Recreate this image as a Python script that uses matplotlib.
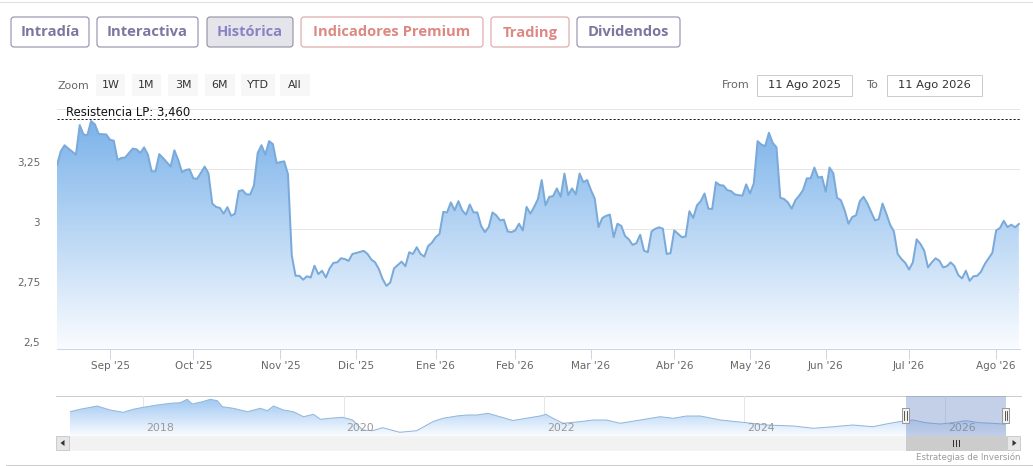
import numpy as np
import pandas as pd
import matplotlib
matplotlib.use('Agg')
import matplotlib.pyplot as plt
from matplotlib.patches import FancyBboxPatch, Rectangle, Polygon
import matplotlib.transforms as mtransforms

# ---------------- data ----------------
start_date = '2025-08-11'
end_date = '2026-08-11'
market_holidays = ['2025-08-15', '2025-12-25', '2025-12-26', '2026-01-01',
                   '2026-04-03', '2026-04-06', '2026-05-01']

# trading session number (since 11 Ago 2025) and closing price
session = [0, 1, 2, 3, 5, 6, 7, 8, 9, 10, 11, 13, 14, 15, 16, 17, 18, 20, 21, 22,
           23, 24, 25, 26, 27, 28, 30, 31, 32, 33, 34, 35, 36, 37, 39, 40, 41, 42, 43, 44,
           45, 46, 47, 48, 49, 50, 51, 52, 53, 54, 55, 56, 57, 58, 59, 60, 61, 62, 63, 64,
           65, 66, 67, 68, 69, 70, 71, 72, 73, 74, 75, 76, 77, 78, 79, 81, 82, 83, 84, 85,
           86, 87, 88, 89, 90, 91, 92, 93, 94, 95, 96, 97, 98, 99, 100, 101, 102, 103, 104, 105,
           106, 107, 108, 109, 110, 111, 112, 113, 114, 115, 116, 117, 118, 119, 120, 121, 122, 123, 124, 125,
           126, 127, 128, 129, 130, 131, 132, 133, 134, 135, 136, 137, 138, 139, 140, 141, 142, 143, 144, 145,
           146, 147, 148, 149, 150, 151, 152, 153, 154, 155, 156, 157, 158, 159, 160, 161, 162, 163, 165, 166,
           167, 168, 169, 170, 171, 172, 173, 174, 175, 176, 177, 178, 179, 180, 181, 182, 183, 184, 185, 186,
           187, 188, 189, 190, 191, 192, 193, 194, 195, 196, 197, 198, 199, 200, 201, 202, 203, 204, 205, 206,
           207, 208, 209, 210, 211, 212, 213, 214, 215, 216, 217, 218, 219, 220, 221, 222, 223, 224, 225, 226,
           227, 228, 229, 230, 231, 232, 233, 234, 235, 236, 237, 238, 239, 240, 241, 242, 243, 244, 245, 247,
           248, 249, 250, 251, 252, 253, 254]
price = [3.267, 3.324, 3.349, 3.335, 3.310, 3.433, 3.394, 3.390, 3.450, 3.436, 3.396, 3.394, 3.372, 3.368, 3.288, 3.296, 3.298, 3.335, 3.332, 3.317,
         3.340, 3.310, 3.240, 3.240, 3.312, 3.296, 3.260, 3.328, 3.288, 3.237, 3.246, 3.249, 3.211, 3.209, 3.260, 3.232, 3.106, 3.092, 3.088, 3.064,
         3.091, 3.055, 3.064, 3.158, 3.162, 3.144, 3.144, 3.181, 3.317, 3.349, 3.310, 3.366, 3.354, 3.275, 3.279, 3.282, 3.228, 2.889, 2.805, 2.805,
         2.789, 2.803, 2.798, 2.847, 2.812, 2.826, 2.798, 2.836, 2.859, 2.861, 2.878, 2.875, 2.867, 2.896, 2.900, 2.909, 2.896, 2.873, 2.861, 2.833,
         2.791, 2.763, 2.777, 2.836, 2.850, 2.864, 2.845, 2.903, 2.896, 2.924, 2.896, 2.885, 2.929, 2.943, 2.966, 2.979, 3.071, 3.069, 3.111, 3.078,
         3.116, 3.078, 3.060, 3.102, 3.069, 3.069, 3.013, 2.987, 3.008, 3.069, 3.057, 3.036, 3.039, 2.990, 2.987, 2.994, 3.022, 2.994, 3.092, 3.064,
         3.092, 3.125, 3.204, 3.099, 3.134, 3.137, 3.169, 3.134, 3.231, 3.141, 3.169, 3.144, 3.231, 3.195, 3.204, 3.162, 3.127, 3.008, 3.046, 3.055,
         3.060, 2.966, 3.022, 3.013, 2.971, 2.957, 2.934, 2.941, 2.976, 2.910, 2.903, 2.990, 3.001, 3.007, 3.001, 2.896, 2.899, 2.994, 2.966, 2.969,
         3.074, 3.046, 3.099, 3.116, 3.148, 3.085, 3.083, 3.195, 3.183, 3.181, 3.162, 3.158, 3.144, 3.141, 3.139, 3.186, 3.148, 3.190, 3.366, 3.352,
         3.345, 3.401, 3.359, 3.340, 3.130, 3.125, 3.111, 3.085, 3.120, 3.139, 3.162, 3.211, 3.211, 3.256, 3.214, 3.218, 3.155, 3.256, 3.232, 3.130,
         3.120, 3.078, 3.022, 3.050, 3.057, 3.116, 3.134, 3.106, 3.071, 3.036, 3.041, 3.106, 3.064, 3.018, 2.990, 2.896, 2.875, 2.859, 2.831, 2.861,
         2.957, 2.938, 2.910, 2.840, 2.861, 2.878, 2.868, 2.840, 2.845, 2.861, 2.845, 2.808, 2.794, 2.826, 2.784, 2.803, 2.805, 2.822, 2.854, 2.901,
         2.994, 3.004, 3.034, 3.008, 3.018, 3.007, 3.021]
assert len(session) == len(price)

resistance_value = 3.460
resistance_label = 'Resistencia LP: 3,460'

y_ticks = [2.5, 2.75, 3.0, 3.25, 3.5]
y_labels = ['2,5', '2,75', '3', '3,25', '']

month_starts = ['2025-09-01', '2025-10-01', '2025-11-01', '2025-12-01', '2026-01-01', '2026-02-01',
                '2026-03-01', '2026-04-01', '2026-05-01', '2026-06-01', '2026-07-01', '2026-08-01']
month_labels = ["Sep '25", "Oct '25", "Nov '25", "Dic '25", "Ene '26", "Feb '26",
                "Mar '26", "Abr '26", "May '26", "Jun '26", "Jul '26", "Ago '26"]

# navigator (full history), decimal year and price
nav_year = [2017.27, 2017.37, 2017.54, 2017.67, 2017.80, 2017.90, 2018.00, 2018.14, 2018.27, 2018.37,
            2018.44, 2018.49, 2018.59, 2018.67, 2018.74, 2018.79, 2018.90, 2019.04, 2019.17, 2019.24,
            2019.30, 2019.40, 2019.50, 2019.60, 2019.70, 2019.77, 2019.86, 2019.99, 2020.09, 2020.19,
            2020.29, 2020.39, 2020.56, 2020.73, 2020.89, 2020.99, 2021.13, 2021.23, 2021.33, 2021.44,
            2021.56, 2021.69, 2021.82, 2021.96, 2022.02, 2022.09, 2022.19, 2022.36, 2022.49, 2022.62,
            2022.76, 2022.96, 2023.16, 2023.29, 2023.42, 2023.56, 2023.76, 2024.02, 2024.22, 2024.49,
            2024.69, 2024.89, 2025.08, 2025.28, 2025.45, 2025.60, 2025.68, 2025.81, 2025.95, 2026.08,
            2026.21, 2026.35, 2026.48, 2026.58, 2026.61]
nav_price = [4.03, 4.27, 4.60, 4.20, 3.97, 4.27, 4.47, 4.70, 4.87, 4.93,
             5.27, 4.80, 5.03, 5.27, 5.13, 4.53, 4.37, 4.03, 4.37, 4.13,
             4.60, 4.20, 4.03, 3.53, 3.77, 3.27, 3.37, 3.47, 3.20, 2.20,
             2.13, 2.43, 1.97, 2.13, 3.03, 3.37, 3.60, 3.70, 3.70, 3.87,
             3.53, 3.15, 3.37, 3.60, 3.77, 3.37, 2.87, 3.03, 3.20, 3.20,
             2.87, 3.20, 3.53, 3.37, 3.60, 3.60, 3.20, 2.93, 2.70, 2.60,
             2.37, 2.53, 2.70, 2.53, 2.87, 3.13, 3.20, 2.93, 2.80, 2.93,
             3.13, 2.93, 2.87, 2.80, 2.82]
nav_label_years = [2018, 2020, 2022, 2024, 2026]

# ---------------- figure ----------------
W, H = 1033, 466
DPI = 100
fig = plt.figure(figsize=(W / DPI, H / DPI), dpi=DPI)
fig.patch.set_facecolor('white')
PT = 72 / DPI  # points per pixel

def rect(l, t, r, b):
    return [l / W, 1 - b / H, (r - l) / W, (b - t) / H]

def px_offset(dx, dy):
    return mtransforms.ScaledTranslation(dx / DPI, dy / DPI, fig.dpi_scale_trans)

ov = fig.add_axes([0, 0, 1, 1], zorder=0)
ov.set_xlim(0, W); ov.set_ylim(H, 0); ov.axis('off')
top = fig.add_axes([0, 0, 1, 1], zorder=5)
top.set_xlim(0, W); top.set_ylim(H, 0); top.axis('off'); top.patch.set_alpha(0)

BTN_FONT = ['Open Sans', 'DejaVu Sans']
UI_FONT = ['DejaVu Sans']

# frame lines
ov.plot([0, W], [1.5, 1.5], color='#dddddd', lw=1 * PT)
ov.plot([6, W], [465, 465], color='#cccccc', lw=1 * PT)

# tab buttons
purple_txt, purple_edge = '#7b77a0', '#908caa'
red_txt, red_edge = '#dd8882', '#dda4a1'
tabs = [('Intradía', 11, 89, purple_txt, purple_edge, 'white'),
        ('Interactiva', 97, 198, purple_txt, purple_edge, 'white'),
        ('Histórica', 207, 293, '#8883c4', '#8f8fa0', '#e4e4ea'),
        ('Indicadores Premium', 301, 483, red_txt, red_edge, 'white'),
        ('Trading', 491, 569, red_txt, red_edge, 'white'),
        ('Dividendos', 577, 680, purple_txt, purple_edge, 'white')]
for label, x0, x1, tc, ec, fc in tabs:
    ov.add_patch(FancyBboxPatch((x0, 17), x1 - x0, 30, boxstyle='round,pad=0,rounding_size=3',
                                fc=fc, ec=ec, lw=1.1 * PT))
    ov.text((x0 + x1) / 2, 32.5, label, ha='center', va='center', color=tc,
            fontsize=14.8 * PT, fontweight='bold', family=BTN_FONT)

# range selector
ov.text(57, 86, 'Zoom', ha='left', va='center', color='#666666', fontsize=11 * PT, family=UI_FONT)
rng = [('1W', 96, 125), ('1M', 132, 161), ('3M', 168, 198), ('6M', 205, 235), ('YTD', 241, 275), ('All', 280, 310)]
for lab, x0, x1 in rng:
    ov.add_patch(Rectangle((x0, 74), x1 - x0, 22, fc='#f7f7f7', ec='none'))
    ov.text((x0 + x1) / 2, 85.5, lab, ha='center', va='center', color='#333333',
            fontsize=11 * PT, family=UI_FONT)

ov.text(750, 85.5, 'From', ha='right', va='center', color='#666666', fontsize=11.3 * PT, family=UI_FONT)
ov.add_patch(Rectangle((757, 75), 95, 21, fc='white', ec='#cccccc', lw=1 * PT))
ov.text(804.5, 85.5, '11 Ago 2025', ha='center', va='center', color='#333333', fontsize=11.5 * PT, family=UI_FONT)
ov.text(878, 85.5, 'To', ha='right', va='center', color='#666666', fontsize=11.3 * PT, family=UI_FONT)
ov.add_patch(Rectangle((887, 75), 95, 21, fc='white', ec='#cccccc', lw=1 * PT))
ov.text(934.5, 85.5, '11 Ago 2026', ha='center', va='center', color='#333333', fontsize=11.5 * PT, family=UI_FONT)

# ---------------- main chart ----------------
calendar = pd.bdate_range(start_date, end_date)
calendar = calendar[~calendar.isin(pd.to_datetime(market_holidays))]
dates = calendar[session]
xpos = calendar.get_indexer(dates).astype(float)
yv = np.array(price)

ax = fig.add_axes(rect(57, 109, 1020, 349), zorder=2)
ax.patch.set_alpha(0)
x_max = len(calendar) - 0.7
ax.set_xlim(0, x_max)
ax.set_ylim(2.5, 3.5)

for v in y_ticks[1:]:
    ax.axhline(v, color='#e6e6e6', lw=1 * PT, zorder=0)

poly = ax.fill_between(xpos, yv, 2.5, facecolor='none', edgecolor='none')
top_c = np.array([124, 179, 234]) / 255
bot_c = np.array([250, 252, 255]) / 255
t = np.linspace(0, 1, 256)[:, None]
grad = (bot_c + (top_c - bot_c) * t)[:, None, :]
im = ax.imshow(grad, origin='lower', aspect='auto', interpolation='bilinear',
               extent=[0, x_max, 2.5, yv.max()], zorder=1)
im.set_clip_path(poly.get_paths()[0], transform=ax.transData)
ax.plot(xpos, yv, color='#7aaad9', lw=2 * PT, zorder=3, solid_joinstyle='round')
ax.set_xlim(0, x_max); ax.set_ylim(2.5, 3.5)

ax.axhline(resistance_value, color='#222222', lw=1 * PT, ls=(0, (2.2, 1.8)), zorder=4)
ax.text(9 / 963, resistance_value, resistance_label, transform=ax.get_yaxis_transform() + px_offset(0, 3),
        ha='left', va='baseline', color='#111111', fontsize=11.6 * PT, family=UI_FONT, zorder=5)

for s in ['top', 'right', 'left']:
    ax.spines[s].set_visible(False)
ax.spines['bottom'].set_color('#ccd6eb')
ax.spines['bottom'].set_linewidth(1 * PT)
ax.set_yticks([])
tick_idx = [calendar.searchsorted(pd.Timestamp(m)) for m in month_starts]
ax.set_xticks(tick_idx)
ax.set_xticklabels(month_labels, family=UI_FONT)
ax.tick_params(axis='x', length=10 * PT, width=1 * PT, color='#ccd6eb', labelcolor='#666666',
               labelsize=10.4 * PT, pad=1.5)
for v, lab in zip(y_ticks, y_labels):
    ax.text(0, v, lab, transform=ax.get_yaxis_transform() + px_offset(-17, 6),
            ha='right', va='center', color='#666666', fontsize=10.4 * PT, family=UI_FONT)

# ---------------- navigator ----------------
nav = fig.add_axes(rect(70, 396, 1006, 436), zorder=2)
nav.patch.set_alpha(0)
ny = np.array(nav_year); npv = np.array(nav_price)
nav_lo, nav_hi = 1.6, 5.6
nav.set_xlim(ny[0], ny[-1]); nav.set_ylim(nav_lo, nav_hi)
for yr in nav_label_years:
    nav.axvline(yr, color='#e6e6e6', lw=1 * PT, zorder=0)
    nav.text(yr, nav_lo, str(yr), transform=nav.transData + px_offset(3, 3), ha='left', va='bottom',
             color='#999999', fontsize=11 * PT, family=UI_FONT, zorder=4)
npoly = nav.fill_between(ny, npv, nav_lo, facecolor='none', edgecolor='none')
ntop = np.array([160, 200, 242]) / 255
nbot = np.array([250, 252, 255]) / 255
ngrad = (nbot + (ntop - nbot) * t)[:, None, :]
nim = nav.imshow(ngrad, origin='lower', aspect='auto', interpolation='bilinear',
                 extent=[ny[0], ny[-1], nav_lo, npv.max()], zorder=1)
nim.set_clip_path(npoly.get_paths()[0], transform=nav.transData)
nav.plot(ny, npv, color='#93b6dc', lw=1 * PT, zorder=3)
nav.set_xlim(ny[0], ny[-1]); nav.set_ylim(nav_lo, nav_hi)
nav.axis('off')

def dec_year(ts):
    ts = pd.Timestamp(ts)
    return ts.year + (ts.dayofyear - 1) / (366 if ts.is_leap_year else 365)

sel0, sel1 = dec_year(start_date), dec_year(end_date)
nav.axvspan(sel0, sel1, color=(102 / 255, 133 / 255, 194 / 255), alpha=0.38, lw=0, zorder=5)

def nav_px(yr):
    return 70 + (yr - ny[0]) / (ny[-1] - ny[0]) * (1006 - 70)

p0, p1 = nav_px(sel0), nav_px(sel1)

ov.plot([56, 1021], [396, 396], color='#cccccc', lw=1 * PT)

# scrollbar
top.add_patch(Rectangle((56, 436), 964, 14, fc='#f2f2f2', ec='#f2f2f2', lw=0.5 * PT))
for bx, pts in [(56, [(60.5, 443), (64.5, 440), (64.5, 446)]),
                (1007, [(1016.5, 443), (1012.5, 440), (1012.5, 446)])]:
    top.add_patch(Rectangle((bx, 436), 13, 14, fc='#e6e6e6', ec='#cccccc', lw=1 * PT))
    top.add_patch(Polygon(pts, closed=True, fc='#333333', ec='none'))
top.add_patch(Rectangle((p0, 436), p1 - p0, 14, fc='#cccccc', ec='#cccccc', lw=1 * PT))
mid = (p0 + p1) / 2
for dx in (-3, 0, 3):
    top.plot([mid + dx, mid + dx], [440, 446], color='#333333', lw=1 * PT)

# handles
for hp in (p0, p1):
    top.add_patch(Rectangle((hp - 3.5, 408), 7, 15, fc='#f2f2f2', ec='#999999', lw=1 * PT))
    for dx in (-1.3, 1.3):
        top.plot([hp + dx, hp + dx], [411, 420], color='#333333', lw=0.8 * PT)

top.text(1020, 457, 'Estrategias de Inversión', ha='right', va='center', color='#999999',
         fontsize=8.6 * PT, family=UI_FONT)

fig.savefig('out.png', dpi=DPI, facecolor='white')
